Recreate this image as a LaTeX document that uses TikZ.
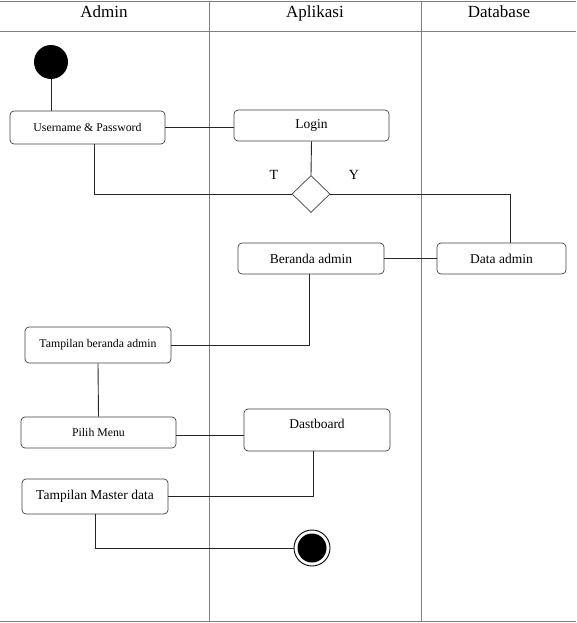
\documentclass[tikz,border=0pt]{standalone}
\usepackage{fontspec}
\setmainfont{Liberation Serif}
\usetikzlibrary{shapes.geometric}
\begin{document}
\begin{tikzpicture}[x=1pt,y=-1pt,
  lane/.style={draw=black!50,line width=1pt},
  act/.style={draw=black!75,rounded corners=4pt,line width=0.7pt,inner sep=0pt},
  flow/.style={draw=black!85,line width=0.9pt},
  hdr/.style={font=\fontsize{17}{19}\selectfont,anchor=base},
  big/.style={font=\fontsize{13.5}{15}\selectfont},
  small/.style={font=\fontsize{11.8}{14}\selectfont}]
\useasboundingbox (0,0) rectangle (576,623);
% swimlanes
\draw[lane] (0,1.5) -- (576,1.5);
\draw[lane] (0,31.5) -- (576,31.5);
\draw[lane] (0,621.5) -- (576,621.5);
\draw[lane] (209,1.5) -- (209,621.5);
\draw[lane] (421,1.5) -- (421,621.5);
\node[hdr] (hA) at (104,18) {Admin};
\node[hdr] (hB) at (315,18) {Aplikasi};
\node[hdr] (hC) at (499,18) {Database};
% nodes
\node[circle,fill=black,minimum size=34pt,inner sep=0pt] (start) at (51,62) {};
\node[act,small,minimum width=155pt,minimum height=33pt] (up) at (87.5,127.5) {Username \& Password};
\node[act,big,minimum width=155pt,minimum height=31pt] (login) at (311.5,125.5) {Login};
\node[diamond,draw=black!75,line width=0.7pt,minimum width=38pt,minimum height=37pt,inner sep=0pt] (dec) at (311,194) {};
\node[font=\fontsize{14}{16}\selectfont] (T) at (274,175) {T};
\node[font=\fontsize{14}{16}\selectfont] (Y) at (354,175) {Y};
\node[act,big,minimum width=146pt,minimum height=31pt] (beranda) at (311,258.5) {Beranda admin};
\node[act,big,minimum width=129pt,minimum height=31pt] (data) at (501.5,258.5) {Data admin};
\node[act,small,minimum width=146pt,minimum height=36pt] (tba) at (98,345) {Tampilan beranda admin};
\node[act,small,minimum width=155pt,minimum height=31pt] (menu) at (98.5,432.5) {Pilih Menu};
\node[act,minimum width=146pt,minimum height=42pt] (dash) at (317,430) {};
\node[big] (dashlbl) at (317,423.5) {Dastboard};
\node[act,big,minimum width=146pt,minimum height=35pt] (tmd) at (95,496.5) {Tampilan Master data};
\node[circle,draw=black,line width=0.9pt,minimum size=36pt,inner sep=0pt] (end) at (312,548) {};
\node[circle,fill=black,minimum size=29pt,inner sep=0pt] (endin) at (end) {};
% connectors
\draw[flow] (start.south) -- (start.south |- up.north);
\draw[flow] (up.east) -- (login.west |- up.east);
\draw[flow] (login.south) -- (dec.north);
\draw[flow] (up.south -| 94,0) |- (dec.west);
\draw[flow] (dec.east) -| (data.north -| 510,0);
\draw[flow] (beranda.east) -- (data.west);
\draw[flow] (beranda.south -| 309,0) |- (tba.east);
\draw[flow] (tba.south) -- (menu.north);
\draw[flow] (menu.east |- 0,435) -- (dash.west |- 0,435);
\draw[flow] (dash.south -| 313,0) |- (tmd.east);
\draw[flow] (tmd.south) |- (end.west);
\end{tikzpicture}
\end{document}
